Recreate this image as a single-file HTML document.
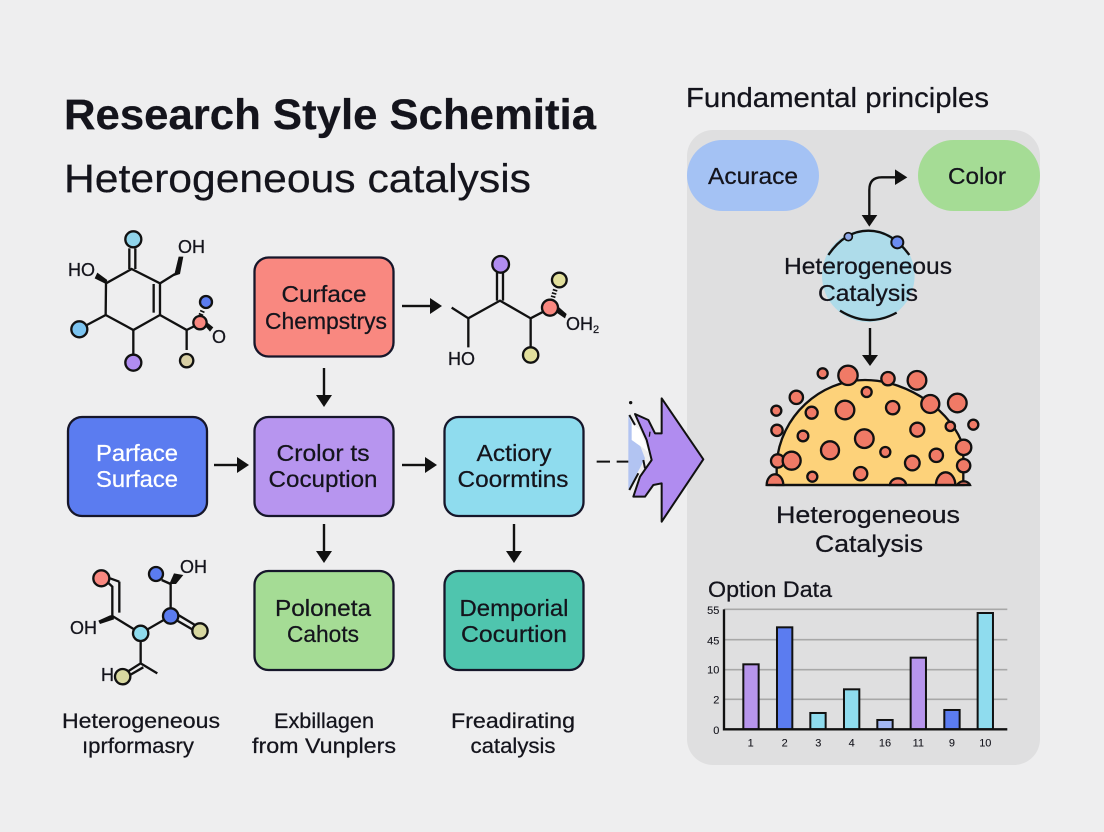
<!DOCTYPE html>
<html><head><meta charset="utf-8"><style>
html,body{margin:0;padding:0;background:#eeeeef}
svg{display:block}
text{font-family:"Liberation Sans",sans-serif;fill:#14141c;stroke:#14141c;stroke-width:.25px}
.w{fill:#fff;stroke:#fff}
</style></head><body>
<svg width="1104" height="832" viewBox="0 0 1104 832" xmlns="http://www.w3.org/2000/svg">
<rect width="1104" height="832" fill="#eeeeef"/>
<rect x="687" y="130" width="353" height="635" rx="26" fill="#dfdfe0"/>

<text x="64" y="129" font-size="43" font-weight="700" textLength="532" lengthAdjust="spacingAndGlyphs">Research Style Schemitia</text>
<text x="64" y="192" font-size="40" textLength="467" lengthAdjust="spacingAndGlyphs">Heterogeneous catalysis</text>
<text x="686" y="107" font-size="28" textLength="303" lengthAdjust="spacingAndGlyphs">Fundamental principles</text>

<!-- Molecule 1 -->
<g transform="translate(50,220) scale(.3333)" fill="none" stroke="#111" stroke-width="7">
<path d="M245 147L330 190V285L250 330L167 285L168 190Z"/>
<path d="M311 192V278"/>
<path d="M238 147V85M256 147V85"/>
<path d="M330 190L375 162"/>
<path d="M372 168L390 162L400 110L386 110Z" fill="#111" stroke="none"/>
<path d="M168 192L172 180L142 158L134 175Z" fill="#111" stroke="none"/>
<path d="M167 285L105 318M250 330V405M330 285L410 330V390M410 330L440 315"/>
<path d="M460 312L480 335L490 322L465 302Z" fill="#111" stroke="none"/>
<path d="M448 295L458 272" stroke-dasharray="5 5" stroke-width="14"/>
<circle cx="250" cy="58" r="24" fill="#90d4ea"/>
<circle cx="88" cy="328" r="24" fill="#7cc4f0"/>
<circle cx="250" cy="428" r="24" fill="#b08cf0"/>
<circle cx="410" cy="422" r="20" fill="#d8cfa4"/>
<circle cx="450" cy="308" r="20" fill="#f98880"/>
<circle cx="468" cy="246" r="18" fill="#5b7cf0"/>
</g>
<text x="68" y="276" font-size="18">HO</text>
<text x="178" y="253" font-size="18">OH</text>
<text x="212" y="343" font-size="18">O</text>

<!-- Molecule 2 -->
<g transform="translate(430,240) scale(.3333)" fill="none" stroke="#111" stroke-width="7">
<path d="M65 203L115 235L210 182L302 235L340 215M115 235V322M302 235V320"/>
<path d="M201 182V95M219 182V95"/>
<path d="M375 215L405 235L410 222L385 200Z" fill="#111" stroke="none"/>
<path d="M366 182L376 148" stroke-dasharray="5 5" stroke-width="14"/>
<circle cx="212" cy="73" r="25" fill="#b08cf0"/>
<circle cx="388" cy="120" r="22" fill="#e2df9c"/>
<circle cx="360" cy="203" r="24" fill="#f98880"/>
<circle cx="302" cy="345" r="23" fill="#e2df9c"/>
</g>
<text x="448" y="365" font-size="18">HO</text>
<text x="566" y="330" font-size="18">OH<tspan font-size="11" dy="3">2</tspan></text>

<!-- Molecule 3 -->
<g transform="translate(50,550) scale(.3333)" fill="none" stroke="#111" stroke-width="7">
<path d="M160 85L187 110V198L272 250L362 198V100M208 95L180 85M208 95V188"/>
<path d="M362 102L335 90"/>
<path d="M358 102L378 102L400 75L372 70Z" fill="#111" stroke="none"/>
<path d="M190 195L180 196L145 212L150 222L192 208Z" fill="#111" stroke="none"/>
<path d="M272 250V340L322 370M272 340L225 370M280 352L240 375"/>
<path d="M370 205L430 240M385 195L440 228"/>
<circle cx="154" cy="85" r="24" fill="#f98880"/>
<circle cx="318" cy="72" r="21" fill="#5b7cf0"/>
<circle cx="362" cy="198" r="23" fill="#5b7cf0"/>
<circle cx="272" cy="250" r="23" fill="#8fdcee"/>
<circle cx="450" cy="243" r="23" fill="#d8d8a0"/>
<circle cx="218" cy="380" r="23" fill="#d8d8a0"/>
</g>
<text x="180" y="573" font-size="18">OH</text>
<text x="70" y="634" font-size="18">OH</text>
<text x="101" y="681" font-size="18">H</text>

<!-- Boxes -->
<g stroke="#16162a" stroke-width="2.300">
<rect x="254.500" y="257.500" width="139" height="99" rx="14" fill="#f98880"/>
<rect x="68" y="417" width="139" height="99" rx="14" fill="#5b7cf0"/>
<rect x="254.500" y="417" width="139" height="99" rx="14" fill="#b795ef"/>
<rect x="444.500" y="417" width="139" height="99" rx="14" fill="#8fdcee"/>
<rect x="254.500" y="571" width="139" height="99" rx="14" fill="#a5dc95"/>
<rect x="444.500" y="571" width="139" height="99" rx="14" fill="#4fc5ae"/>
</g>
<g font-size="23" text-anchor="middle">
<text x="324" y="302" textLength="85" lengthAdjust="spacingAndGlyphs">Curface</text>
<text x="326" y="329" textLength="122" lengthAdjust="spacingAndGlyphs">Chempstrys</text>
<text class="w" x="137" y="461" textLength="82" lengthAdjust="spacingAndGlyphs">Parface</text>
<text class="w" x="137" y="487" textLength="82" lengthAdjust="spacingAndGlyphs">Surface</text>
<text x="323" y="461" textLength="93" lengthAdjust="spacingAndGlyphs">Crolor ts</text>
<text x="323" y="487" textLength="109" lengthAdjust="spacingAndGlyphs">Cocuption</text>
<text x="514" y="461" textLength="75" lengthAdjust="spacingAndGlyphs">Actiory</text>
<text x="513" y="487" textLength="111" lengthAdjust="spacingAndGlyphs">Coormtins</text>
<text x="323" y="616" textLength="96" lengthAdjust="spacingAndGlyphs">Poloneta</text>
<text x="323" y="642" textLength="72" lengthAdjust="spacingAndGlyphs">Cahots</text>
<text x="514" y="616" textLength="109" lengthAdjust="spacingAndGlyphs">Demporial</text>
<text x="514" y="642" textLength="106" lengthAdjust="spacingAndGlyphs">Cocurtion</text>
</g>

<!-- Arrows -->
<g fill="#111" stroke="none">
<rect x="402" y="304.800" width="30" height="2.400"/><path d="M430 298L442 306L430 314Z"/>
<rect x="322.800" y="368" width="2.400" height="29"/><path d="M316 395L324 407L332 395Z"/>
<rect x="214" y="463.800" width="26" height="2.400"/><path d="M237 457L249 465L237 473Z"/>
<rect x="402" y="463.800" width="26" height="2.400"/><path d="M425 457L437 465L425 473Z"/>
<rect x="322.800" y="524" width="2.400" height="28"/><path d="M316 551L324 563L332 551Z"/>
<rect x="512.800" y="524" width="2.400" height="28"/><path d="M506 551L514 563L522 551Z"/>
<path d="M862 355L870 366L878 355Z"/><rect x="868.800" y="328" width="2.400" height="28"/>
</g>

<!-- Big arrow -->
<g transform="translate(590,390) scale(.3333)">
<path d="M115 75V300L165 205Z" fill="#b2c4f2"/>
<path d="M125 100L125 150L165 178L178 190L150 120Z" fill="#fff"/>
<path d="M215 25L340 208L215 395V280L190 285L165 320H130L150 260L185 210L170 150L135 72L175 90L195 130H215Z" fill="#b08cf0" stroke="#111" stroke-width="6" stroke-linejoin="round"/>
<path d="M118 75L135 105M118 300L145 250" stroke="#111" stroke-width="6" fill="none"/>
<path d="M20 215H60M80 215H115M165 235L160 210" stroke="#111" stroke-width="6" fill="none"/>
<circle cx="122" cy="38" r="5" fill="#111"/>
<path d="M180 125L178 140" stroke="#111" stroke-width="4"/>
</g>

<!-- Top ovals -->
<rect x="687" y="140" width="132" height="71" rx="35.500" fill="#a4c2f4"/>
<rect x="918" y="140" width="122" height="71" rx="35.500" fill="#a5dc95"/>
<text x="753" y="184" font-size="23" text-anchor="middle" textLength="90" lengthAdjust="spacingAndGlyphs">Acurace</text>
<text x="977" y="184" font-size="23" text-anchor="middle" textLength="58" lengthAdjust="spacingAndGlyphs">Color</text>

<!-- Heterogeneous circle -->
<g transform="translate(780,160) scale(.3333)">
<circle cx="265" cy="347" r="139" fill="#aedcea"/>
<g fill="none" stroke="#111" stroke-width="7">
<path d="M268 170V90Q268 52 305 52H350"/>
<path d="M145 285Q195 212 265 212T388 285"/>
<path d="M180 452Q265 505 350 458"/>
</g>
<path d="M345 28L382 52L345 75Z" fill="#111"/>
<path d="M245 165H292L268 200Z" fill="#111"/>
<circle cx="205" cy="230" r="12" fill="#8fa8e8" stroke="#111" stroke-width="5"/>
<circle cx="352" cy="247" r="18" fill="#6b8cf0" stroke="#111" stroke-width="6"/>
</g>
<text x="868" y="274" font-size="23" text-anchor="middle" textLength="168" lengthAdjust="spacingAndGlyphs">Heterogeneous</text>
<text x="868" y="301" font-size="23" text-anchor="middle" textLength="100" lengthAdjust="spacingAndGlyphs">Catalysis</text>

<!-- Dome -->
<g transform="translate(750,350) scale(.3333)" stroke="#111" stroke-width="7">
<path d="M80 405V340C90 200 210 90 345 90C480 90 610 190 640 290V405Z" fill="#fdd27a"/>
<g fill="#f07a66">
<circle cx="218" cy="70" r="15"/><circle cx="294" cy="76" r="29"/><circle cx="414" cy="86" r="20"/><circle cx="501" cy="91" r="28"/>
<circle cx="139" cy="142" r="20"/><circle cx="350" cy="126" r="15"/><circle cx="541" cy="162" r="27"/><circle cx="622" cy="159" r="28"/>
<circle cx="79" cy="182" r="15"/><circle cx="185" cy="188" r="18"/><circle cx="285" cy="180" r="28"/><circle cx="428" cy="173" r="20"/>
<circle cx="81" cy="241" r="17"/><circle cx="601" cy="229" r="14"/><circle cx="670" cy="224" r="15"/><circle cx="502" cy="239" r="21"/>
<circle cx="159" cy="258" r="16"/><circle cx="343" cy="266" r="28"/><circle cx="641" cy="292" r="23"/>
<circle cx="240" cy="301" r="27"/><circle cx="406" cy="306" r="15"/><circle cx="559" cy="316" r="20"/>
<circle cx="83" cy="333" r="20"/><circle cx="125" cy="332" r="27"/><circle cx="487" cy="339" r="22"/><circle cx="641" cy="347" r="20"/>
<circle cx="187" cy="380" r="15"/><circle cx="332" cy="371" r="20"/>
<path d="M50 405A25 32 0 0 1 100 405Z"/>
<path d="M420 405A24 20 0 0 1 468 405Z"/>
<path d="M558 405A29 38 0 0 1 616 405Z"/>
<path d="M622 405A20 16 0 0 1 660 405Z"/>
</g>
<path d="M50 405H660" fill="none"/>
</g>
<text x="868" y="523" font-size="24" text-anchor="middle" textLength="184" lengthAdjust="spacingAndGlyphs">Heterogeneous</text>
<text x="869" y="552" font-size="24" text-anchor="middle" textLength="108" lengthAdjust="spacingAndGlyphs">Catalysis</text>

<!-- Chart -->
<text x="708" y="597" font-size="22" textLength="124" lengthAdjust="spacingAndGlyphs">Option Data</text>
<g transform="translate(690,590) scale(.3333)">
<g stroke="#a8a8a8" stroke-width="5">
<path d="M102 58H952M102 149H952M102 239H952M102 328H952"/>
</g>
<g stroke="#111" stroke-width="6">
<rect x="160" y="223" width="46" height="195" fill="#b795ec"/>
<rect x="261" y="112" width="46" height="306" fill="#5b7cf0"/>
<rect x="361" y="369" width="46" height="49" fill="#8fdcee"/>
<rect x="462" y="298" width="46" height="120" fill="#8fdcee"/>
<rect x="562" y="390" width="46" height="28" fill="#a4b8f4"/>
<rect x="662" y="203" width="46" height="215" fill="#b795ec"/>
<rect x="763" y="360" width="46" height="58" fill="#5b7cf0"/>
<rect x="863" y="69" width="46" height="349" fill="#8fdcee"/>
</g>
<path d="M102 58V418H952" fill="none" stroke="#111" stroke-width="7"/>
<g font-size="33" text-anchor="end">
<text x="88" y="72">55</text><text x="88" y="163">45</text><text x="88" y="250">10</text><text x="88" y="340">2</text><text x="88" y="432">0</text>
</g>
<g font-size="33" text-anchor="middle">
<text x="182" y="470">1</text><text x="284" y="470">2</text><text x="385" y="470">3</text><text x="485" y="470">4</text><text x="585" y="470">16</text><text x="685" y="470">11</text><text x="786" y="470">9</text><text x="886" y="470">10</text>
</g>
</g>

<!-- Bottom captions -->
<g font-size="21" text-anchor="middle">
<text x="141" y="728" textLength="158" lengthAdjust="spacingAndGlyphs">Heterogeneous</text>
<text x="138" y="753" textLength="112" lengthAdjust="spacingAndGlyphs">ıprformasry</text>
<text x="311" y="728" textLength="0" style="display:none"></text>
<text x="324" y="728" textLength="100" lengthAdjust="spacingAndGlyphs">Exbillagen</text>
<text x="324" y="753" textLength="144" lengthAdjust="spacingAndGlyphs">from Vunplers</text>
<text x="513" y="728" textLength="124" lengthAdjust="spacingAndGlyphs">Freadirating</text>
<text x="513" y="753" textLength="85" lengthAdjust="spacingAndGlyphs">catalysis</text>
</g>
</svg>
</body></html>
